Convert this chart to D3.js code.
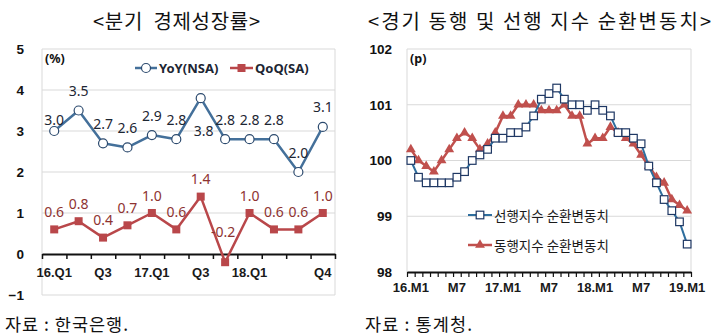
<!DOCTYPE html>
<html><head><meta charset="utf-8">
<script src="https://cdn.jsdelivr.net/npm/d3@7"></script>
<style>
html,body{margin:0;padding:0;background:#fff;}
svg{display:block;font-family:"Noto Sans","Noto Sans CJK KR",sans-serif;}
</style></head>
<body>
<svg id="c" width="720" height="335"></svg>
<script>
// ---------- DATA ----------
const quarters = ["16.Q1","16.Q2","16.Q3","16.Q4","17.Q1","17.Q2","17.Q3","17.Q4","18.Q1","18.Q2","18.Q3","18.Q4"];
const quarterTickLabels = ["16.Q1","","Q3","","17.Q1","","Q3","","18.Q1","","","Q4"];
const yoyNSA = [3.0,3.5,2.7,2.6,2.9,2.8,3.8,2.8,2.8,2.8,2.0,3.1];
const qoqSA  = [0.6,0.8,0.4,0.7,1.0,0.6,1.4,-0.2,1.0,0.6,0.6,1.0];
const leftYTicks = [-1,0,1,2,3,4,5];

const months = ["16.M1","16.M2","16.M3","16.M4","16.M5","16.M6","16.M7","16.M8","16.M9","16.M10","16.M11","16.M12",
  "17.M1","17.M2","17.M3","17.M4","17.M5","17.M6","17.M7","17.M8","17.M9","17.M10","17.M11","17.M12",
  "18.M1","18.M2","18.M3","18.M4","18.M5","18.M6","18.M7","18.M8","18.M9","18.M10","18.M11","18.M12","19.M1"];
const monthTickLabels = {"16.M1":"16.M1","16.M7":"M7","17.M1":"17.M1","17.M7":"M7","18.M1":"18.M1","18.M7":"M7","19.M1":"19.M1"};
const leadingIdx = [100.0,99.7,99.6,99.6,99.6,99.6,99.7,99.8,100.0,100.1,100.2,100.4,100.4,100.5,100.5,100.6,100.8,101.1,101.2,101.3,101.1,101.0,101.0,100.9,101.0,100.9,100.8,100.5,100.5,100.4,100.3,99.9,99.6,99.3,99.1,98.9,98.5];
const coincidentIdx = [100.2,100.0,99.9,99.8,100.0,100.2,100.4,100.5,100.4,100.2,100.3,100.5,100.8,100.8,101.0,101.0,101.0,100.9,100.9,100.9,101.0,100.8,100.8,100.3,100.4,100.4,100.6,100.5,100.4,100.3,100.1,99.9,99.7,99.6,99.3,99.2,99.1];
const rightYTicks = [98,99,100,101,102];

const titleLeft = "<분기  경제성장률>";
const titleRight = "<경기 동행 및 선행 지수 순환변동치>";
const legendLeft = ["YoY(NSA)","QoQ(SA)"];
const legendRight = ["선행지수 순환변동치","동행지수 순환변동치"];
const sourceLeft = "자료 : 한국은행.";
const sourceRight = "자료 : 통계청.";

// ---------- STYLE ----------
const GRID = "#d9d9d9";
const BLUE_LINE = "#44709a", BLUE_MARK = "#2c4a6e";
const RED = "#b9474a";
const LEAD_LINE = "#2e6e9e", LEAD_MARK = "#1f3864";
const COIN = "#c0504d";

const svg = d3.select("#c");

// titles
svg.append("text").attr("x",93).attr("y",20)
  .attr("dominant-baseline","central").attr("font-size",20).attr("fill","#111")
  .attr("textLength",167).attr("lengthAdjust","spacing")
  .attr("font-family","Noto Sans CJK KR").style("white-space","pre").text(titleLeft);
svg.append("text").attr("x",368).attr("y",20)
  .attr("dominant-baseline","central").attr("font-size",20).attr("fill","#111")
  .attr("textLength",343).attr("lengthAdjust","spacing")
  .attr("font-family","Noto Sans CJK KR").text(titleRight);

// sources
svg.append("text").attr("x",5).attr("y",323).attr("dominant-baseline","central")
  .attr("font-size",17.5).attr("fill","#111").attr("textLength",123).attr("lengthAdjust","spacing")
  .attr("font-family","Noto Sans CJK KR").style("white-space","pre").text(sourceLeft);
svg.append("text").attr("x",365).attr("y",323).attr("dominant-baseline","central")
  .attr("font-size",17.5).attr("fill","#111").attr("textLength",107).attr("lengthAdjust","spacing")
  .attr("font-family","Noto Sans CJK KR").style("white-space","pre").text(sourceRight);

// ================= LEFT CHART =================
(function(){
  const L=42, R=335, T=49, B=295;
  const x = d3.scaleBand().domain(quarters).range([L,R]).padding(0);
  const xb = d3.scaleLinear().domain([0,quarters.length]).range([L,R]);
  const y = d3.scaleLinear().domain([-1,5]).range([B,T]);
  const cx = d => x(d)+x.bandwidth()/2;
  const g = svg.append("g");

  g.selectAll("line.grid").data(leftYTicks.filter(v=>v!==0)).join("line")
    .attr("x1",L).attr("x2",R).attr("y1",d=>y(d)).attr("y2",d=>y(d))
    .attr("stroke",GRID).attr("stroke-width",1);
  g.append("line").attr("x1",L).attr("x2",L).attr("y1",T).attr("y2",B).attr("stroke",GRID);
  g.append("line").attr("x1",R).attr("x2",R).attr("y1",T).attr("y2",B).attr("stroke",GRID);

  const ya = g.append("g").attr("transform",`translate(${L},0)`)
    .call(d3.axisLeft(y).tickValues(leftYTicks).tickSize(0).tickPadding(18).tickFormat(d3.format("d")));
  ya.select(".domain").remove();
  ya.selectAll("text").attr("font-size",13.5).attr("font-weight","bold").attr("fill","#111");

  const xa = g.append("g").attr("transform",`translate(0,${y(0)})`)
    .call(d3.axisBottom(xb).tickValues(d3.range(quarters.length+1)).tickSize(5).tickSizeOuter(0).tickFormat(""));
  xa.select(".domain").attr("stroke","#111").attr("stroke-width",2);
  xa.selectAll(".tick line").attr("stroke","#111").attr("stroke-width",1.5);
  const xl = g.append("g").attr("transform",`translate(0,${y(0)})`)
    .call(d3.axisBottom(x).tickSize(0).tickPadding(14).tickFormat((d,i)=>quarterTickLabels[i]));
  xl.select(".domain").remove();
  xl.selectAll("text").attr("font-size",13).attr("font-weight","bold").attr("fill","#1a1a1a");

  const line = d3.line().x((d,i)=>cx(quarters[i])).y(d=>y(d));
  g.append("path").datum(yoyNSA).attr("d",line).attr("fill","none")
    .attr("stroke",BLUE_LINE).attr("stroke-width",2.5).attr("stroke-linejoin","round");
  g.selectAll("circle.yoy").data(yoyNSA).join("circle")
    .attr("cx",(d,i)=>cx(quarters[i])).attr("cy",d=>y(d)).attr("r",4.5)
    .attr("fill","#fff").attr("stroke",BLUE_MARK).attr("stroke-width",1.2);
  g.append("path").datum(qoqSA).attr("d",line).attr("fill","none")
    .attr("stroke",RED).attr("stroke-width",2.5).attr("stroke-linejoin","round");
  g.selectAll("rect.qoq").data(qoqSA).join("rect")
    .attr("x",(d,i)=>cx(quarters[i])-4).attr("y",d=>y(d)-4).attr("width",8).attr("height",8)
    .attr("fill",RED);

  const yoyDy = i => i===0 ? -12 : (i===6 ? 32 : -20);
  g.selectAll("text.yl").data(yoyNSA).join("text")
    .attr("x",(d,i)=>cx(quarters[i])+(i===6?3:0)).attr("y",(d,i)=>y(d)+yoyDy(i))
    .attr("text-anchor","middle").attr("dominant-baseline","central")
    .attr("font-size",14).attr("fill","#1d2633").text(d=>d.toFixed(1));
  const qoqDy = i => i===7 ? -31 : -18;
  g.selectAll("text.ql").data(qoqSA).join("text")
    .attr("x",(d,i)=>cx(quarters[i])+(i===7?-2:0)).attr("y",(d,i)=>y(d)+qoqDy(i))
    .attr("text-anchor","middle").attr("dominant-baseline","central")
    .attr("font-size",14).attr("fill","#8e3331").text(d=>d.toFixed(1));

  g.append("text").attr("x",45).attr("y",58).attr("dominant-baseline","central")
    .attr("font-size",12.5).attr("font-weight","bold").attr("fill","#111").text("(%)");

  const ly=68;
  g.append("line").attr("x1",135).attr("x2",157).attr("y1",ly).attr("y2",ly).attr("stroke",BLUE_LINE).attr("stroke-width",2.5);
  g.append("circle").attr("cx",146).attr("cy",ly).attr("r",4.5).attr("fill","#fff").attr("stroke",BLUE_MARK).attr("stroke-width",1.2);
  g.append("text").attr("x",159).attr("y",ly).attr("dominant-baseline","central").attr("font-size",13)
    .attr("font-weight","bold").attr("fill","#1d2633").text(legendLeft[0]);
  g.append("line").attr("x1",230).attr("x2",253).attr("y1",ly).attr("y2",ly).attr("stroke",RED).attr("stroke-width",2.5);
  g.append("rect").attr("x",237.5).attr("y",ly-4).attr("width",8).attr("height",8).attr("fill",RED);
  g.append("text").attr("x",255).attr("y",ly).attr("dominant-baseline","central").attr("font-size",13)
    .attr("font-weight","bold").attr("fill","#1d2633").text(legendLeft[1]);
})();

// ================= RIGHT CHART =================
(function(){
  const L=407, R=691, T=49, B=272;
  const x = d3.scaleBand().domain(months).range([L,R]).padding(0);
  const xb = d3.scaleLinear().domain([0,months.length]).range([L,R]);
  const y = d3.scaleLinear().domain([98,102]).range([B,T]);
  const cx = d => x(d)+x.bandwidth()/2;
  const g = svg.append("g");

  g.selectAll("line.grid").data(rightYTicks.filter(v=>v!==98)).join("line")
    .attr("x1",L).attr("x2",R).attr("y1",d=>y(d)).attr("y2",d=>y(d))
    .attr("stroke",GRID).attr("stroke-width",1);
  g.append("line").attr("x1",L).attr("x2",L).attr("y1",T).attr("y2",B).attr("stroke",GRID);
  g.append("line").attr("x1",R).attr("x2",R).attr("y1",T).attr("y2",B).attr("stroke",GRID);

  const ya = g.append("g").attr("transform",`translate(${L},0)`)
    .call(d3.axisLeft(y).tickValues(rightYTicks).tickSize(0).tickPadding(15).tickFormat(d3.format("d")));
  ya.select(".domain").remove();
  ya.selectAll("text").attr("font-size",13.5).attr("font-weight","bold").attr("fill","#111");

  const xa = g.append("g").attr("transform",`translate(0,${B})`)
    .call(d3.axisBottom(xb).tickValues(d3.range(months.length+1)).tickSize(5).tickSizeOuter(0).tickFormat(""));
  xa.select(".domain").attr("stroke","#111").attr("stroke-width",2);
  xa.selectAll(".tick line").attr("stroke","#111").attr("stroke-width",1.2);
  const xl = g.append("g").attr("transform",`translate(0,${B})`)
    .call(d3.axisBottom(x).tickSize(0).tickPadding(11).tickFormat(d=>monthTickLabels[d]||""));
  xl.select(".domain").remove();
  xl.selectAll("text").attr("font-size",13).attr("font-weight","bold").attr("fill","#1a1a1a");

  const line = d3.line().x((d,i)=>cx(months[i])).y(d=>y(d));
  g.append("path").datum(coincidentIdx).attr("d",line).attr("fill","none")
    .attr("stroke",COIN).attr("stroke-width",2.5).attr("stroke-linejoin","round");
  const tri = d3.symbol().type(d3.symbolTriangle).size(42);
  g.selectAll("path.tri").data(coincidentIdx).join("path")
    .attr("d",tri).attr("transform",(d,i)=>`translate(${cx(months[i])},${y(d)})`).attr("fill",COIN);
  g.append("path").datum(leadingIdx).attr("d",line).attr("fill","none")
    .attr("stroke",LEAD_LINE).attr("stroke-width",2).attr("stroke-linejoin","round");
  g.selectAll("rect.sq").data(leadingIdx).join("rect")
    .attr("x",(d,i)=>cx(months[i])-3.8).attr("y",d=>y(d)-3.8).attr("width",7.6).attr("height",7.6)
    .attr("fill","#fff").attr("stroke",LEAD_MARK).attr("stroke-width",1.2);

  g.append("text").attr("x",410).attr("y",58).attr("dominant-baseline","central")
    .attr("font-size",12.5).attr("font-weight","bold").attr("fill","#111").text("(p)");

  const l1=215, l2=245;
  g.append("line").attr("x1",468).attr("x2",492).attr("y1",l1).attr("y2",l1).attr("stroke",LEAD_LINE).attr("stroke-width",2);
  g.append("rect").attr("x",476.2).attr("y",l1-3.8).attr("width",7.6).attr("height",7.6).attr("fill","#fff").attr("stroke",LEAD_MARK).attr("stroke-width",1.2);
  g.append("text").attr("x",494).attr("y",l1).attr("dominant-baseline","central").attr("font-size",13.5)
    .attr("fill","#1a1a1a").attr("font-family","Noto Sans CJK KR").text(legendRight[0]);
  g.append("line").attr("x1",468).attr("x2",492).attr("y1",l2).attr("y2",l2).attr("stroke",COIN).attr("stroke-width",2.5);
  g.append("path").attr("d",tri).attr("transform",`translate(480,${l2})`).attr("fill",COIN);
  g.append("text").attr("x",494).attr("y",l2).attr("dominant-baseline","central").attr("font-size",13.5)
    .attr("fill","#1a1a1a").attr("font-family","Noto Sans CJK KR").text(legendRight[1]);
})();
</script>
</body></html>
